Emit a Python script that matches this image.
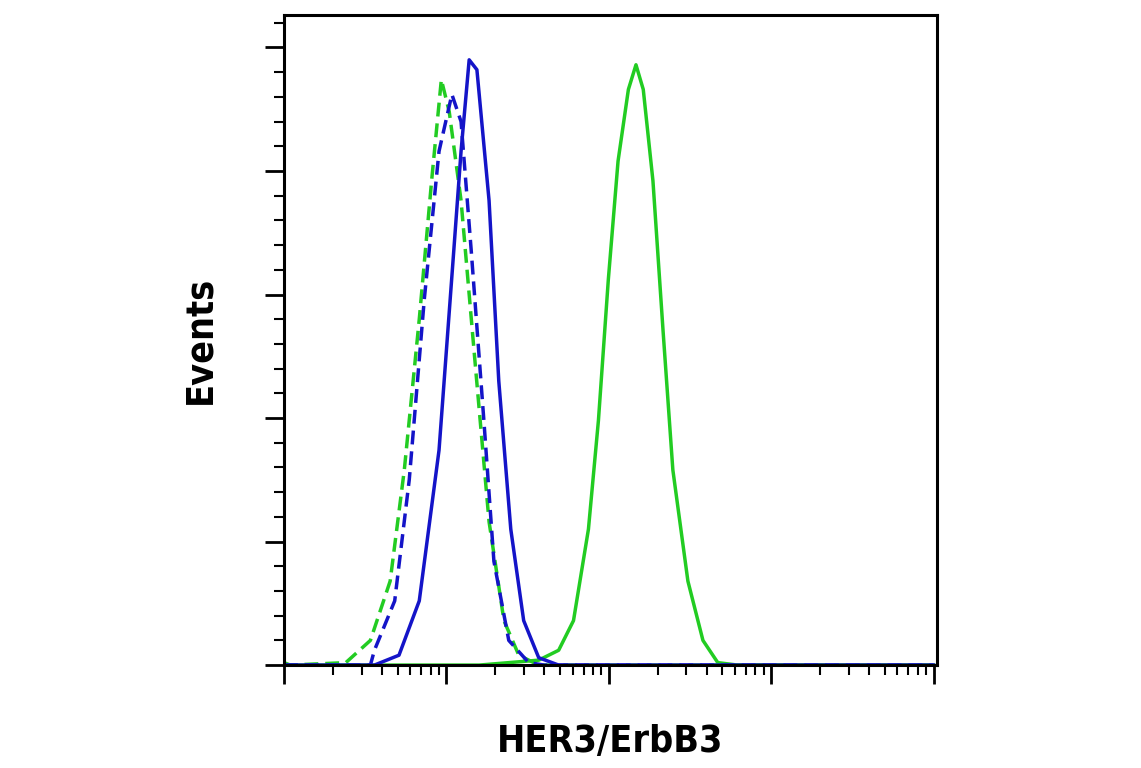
import numpy as np, pandas as pd, matplotlib
matplotlib.use("Agg")
import matplotlib.pyplot as plt, seaborn as sns
from matplotlib.ticker import LogLocator, MultipleLocator, NullFormatter

blue_solid_x = [1, 3.6, 5.1, 6.8, 9.0, 11.1, 12.3, 13.8, 15.4, 18.3, 21.0, 24.9, 29.9, 37.0, 49.1, 10000]
blue_solid_y = [0, 0, 4, 26, 87, 168, 208, 245, 241, 188, 115, 55, 18, 3, 0, 0]
blue_dash_x = [1, 3.4, 3.6, 4.8, 5.9, 7.3, 9.0, 10.8, 12.3, 14.2, 17.0, 19.6, 24.2, 32.1, 40, 10000]
blue_dash_y = [0, 0, 6, 26, 75, 148, 208, 231, 220, 168, 99, 42, 10, 1, 0, 0]
green_dash_x = [1, 1.09, 2.4, 3.4, 4.5, 5.5, 6.8, 8.1, 9.3, 10.4, 12.3, 14.8, 18.3, 22.6, 27.9, 37, 10000]
green_dash_y = [1, 0, 1, 10, 34, 79, 140, 196, 237, 224, 188, 127, 58, 18, 4, 0, 0]
green_solid_x = [1, 15.9, 37, 49.1, 60.6, 74.9, 86.3, 99.3, 114, 132, 147, 163, 187, 216, 248, 307, 380, 469, 621, 10000]
green_solid_y = [0, 0, 2, 6, 18, 55, 99, 156, 204, 233, 243, 233, 196, 135, 79, 34, 10, 1, 0, 0]

blue, green = "#1414c8", "#22cc22"
fig = plt.figure(figsize=(11.41, 7.68), dpi=100)
ax = fig.add_axes([0.249, 0.134, 0.572, 0.846])
for xs, ys, c, ls in [(green_solid_x, green_solid_y, green, "-"),
                      (green_dash_x, green_dash_y, green, (0, (4, 2))),
                      (blue_dash_x, blue_dash_y, blue, (0, (4, 2))),
                      (blue_solid_x, blue_solid_y, blue, "-")]:
    sns.lineplot(x=xs, y=ys, ax=ax, color=c, lw=2.5, linestyle=ls, sort=False)
ax.set_xscale("log")
ax.set_xlim(1, 10**4.02)
ax.set_ylim(0, 263)
ax.xaxis.set_major_locator(LogLocator(10, numticks=10))
ax.xaxis.set_minor_locator(LogLocator(10, subs=np.arange(2, 10), numticks=20))
ax.xaxis.set_major_formatter(NullFormatter()); ax.xaxis.set_minor_formatter(NullFormatter())
ax.yaxis.set_major_locator(MultipleLocator(50)); ax.yaxis.set_minor_locator(MultipleLocator(10))
ax.set_yticklabels([])
ax.tick_params(which="major", direction="out", length=14, width=2)
ax.tick_params(which="minor", direction="out", length=7, width=1.5)
for s in ax.spines.values():
    s.set_linewidth(2.2)
font = dict(family=["DejaVu Sans"], fontstretch="condensed", fontweight="bold", fontsize=27)
ax.set_xlabel("HER3/ErbB3", labelpad=25, **font)
ax.set_ylabel("Events", labelpad=30, **font)
fig.savefig("out.png", dpi=100)
